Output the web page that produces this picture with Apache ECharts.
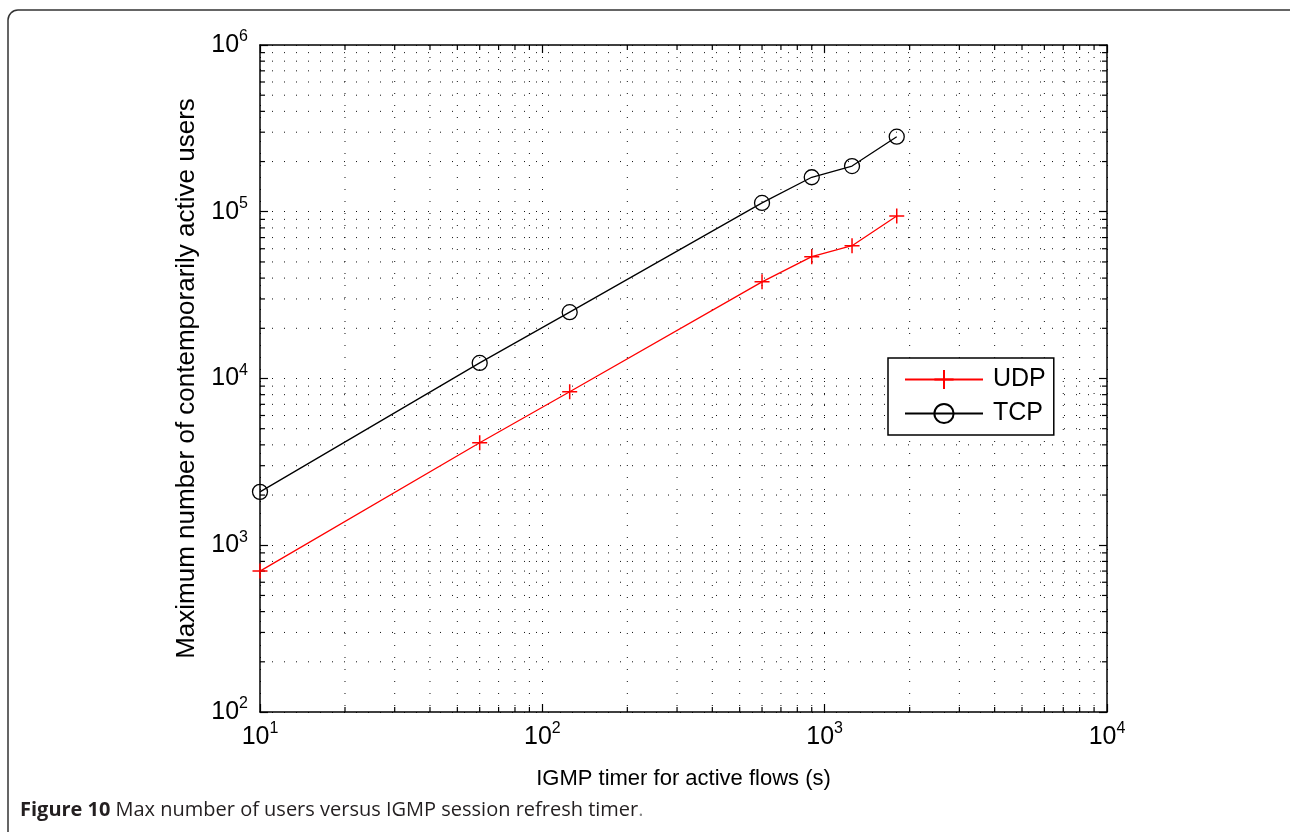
<!DOCTYPE html>
<html>
<head>
<meta charset="utf-8">
<script src="https://cdn.jsdelivr.net/npm/echarts@6/dist/echarts.min.js"></script>
<style>
  html, body { margin: 0; padding: 0; background: #fff; }
  #chart { width: 1290px; height: 832px; }
</style>
</head>
<body>
<div id="chart"></div>
<script>
// values
const timers = [10, 60, 125, 600, 900, 1250, 1800]
const udpUsers = [700, 4120, 8330, 38000, 53800, 62600, 94300]
const tcpUsers = [2090, 12400, 25000, 113000, 161000, 188000, 282000]

const xDecades = [10, 100, 1000]
const yDecades = [100, 1000, 10000, 100000]
const minorSteps = [2, 3, 4, 5, 6, 7, 8, 9]

const FONT = 'Liberation Sans, Arial, sans-serif'

function powLabel(v) {
    let e = Math.round(Math.log10(v))
    return '{b|10}{e|' + e + '}'
}
const labelRich = {
    b: { fontSize: 25, fontFamily: FONT, color: '#000' },
    e: { fontSize: 16, fontFamily: FONT, color: '#000', padding: [0, 0, 16, 0] }
}

let xMinor = []
xDecades.forEach(d => minorSteps.forEach(m => xMinor.push([d * m, 100])))
let yMinor = []
yDecades.forEach(d => minorSteps.forEach(m => yMinor.push([10, d * m])))

const dotted = { color: '#111', width: 1, type: [1, 11] }

function minorX(params, api) {
    let v = api.value(0)
    let top = api.coord([v, 1e6])
    let bot = api.coord([v, 100])
    return {
        type: 'group',
        children: [
            { type: 'line', shape: { x1: top[0], y1: top[1], x2: bot[0], y2: bot[1] }, style: { stroke: '#111', lineWidth: 1, lineDash: [1, 11] } },
            { type: 'line', shape: { x1: bot[0], y1: bot[1], x2: bot[0], y2: bot[1] - 5 }, style: { stroke: '#000', lineWidth: 1.2 } },
            { type: 'line', shape: { x1: top[0], y1: top[1], x2: top[0], y2: top[1] + 5 }, style: { stroke: '#000', lineWidth: 1.2 } }
        ]
    }
}
function minorY(params, api) {
    let v = api.value(1)
    let l = api.coord([10, v])
    let r = api.coord([10000, v])
    return {
        type: 'group',
        children: [
            { type: 'line', shape: { x1: l[0], y1: l[1], x2: r[0], y2: r[1] }, style: { stroke: '#111', lineWidth: 1, lineDash: [1, 11] } },
            { type: 'line', shape: { x1: l[0], y1: l[1], x2: l[0] + 5, y2: l[1] }, style: { stroke: '#000', lineWidth: 1.2 } },
            { type: 'line', shape: { x1: r[0], y1: r[1], x2: r[0] - 5, y2: r[1] }, style: { stroke: '#000', lineWidth: 1.2 } }
        ]
    }
}

let chart = echarts.init(document.getElementById('chart'))
let axisLine = { show: true, lineStyle: { color: '#000', width: 1.5 } }
let tick = { show: true, inside: true, length: 8, lineStyle: { color: '#000', width: 1.2 } }

let option = {
    animation: false,
    backgroundColor: '#fff',
    textStyle: { fontFamily: FONT },
    grid: { left: 260, top: 45, right: 183, bottom: 120 },
    title: {
        left: 15,
        top: 795,
        text: '{b|Figure 10} {n|Max number of users versus IGMP session refresh timer}{p|.}',
        textStyle: {
            rich: {
                b: { fontFamily: 'Open Sans', fontWeight: 'bold', fontSize: 20, color: '#231f20' },
                n: { fontFamily: 'Open Sans', fontWeight: 'normal', fontSize: 20, color: '#231f20' },
                p: { fontFamily: 'Open Sans', fontWeight: 'normal', fontSize: 20, color: '#888' }
            }
        }
    },
    graphic: [{
        type: 'rect',
        shape: { x: 8, y: 10, width: 1300, height: 840, r: 10 },
        style: { fill: 'none', stroke: '#333', lineWidth: 1.5 },
        silent: true
    }],
    legend: {
        data: ['UDP', 'TCP'],
        orient: 'vertical',
        left: 888,
        top: 358,
        padding: [9, 8, 9, 16],
        itemGap: 9,
        itemWidth: 78,
        itemHeight: 24,
        borderColor: '#000',
        borderWidth: 1.5,
        backgroundColor: '#fff',
        textStyle: { fontSize: 25, fontFamily: FONT, color: '#000', padding: [0, 0, 0, 5] }
    },
    xAxis: [{
        type: 'log', logBase: 10, min: 10, max: 10000,
        name: 'IGMP timer for active flows (s)',
        nameLocation: 'middle', nameGap: 56,
        nameTextStyle: { fontSize: 22, fontFamily: FONT, color: '#000' },
        axisLine: axisLine, axisTick: tick,
        axisLabel: { margin: 9, formatter: powLabel, rich: labelRich },
        splitLine: { show: true, lineStyle: dotted }
    }, {
        type: 'log', logBase: 10, min: 10, max: 10000, position: 'top',
        axisLine: axisLine, axisTick: tick, axisLabel: { show: false }, splitLine: { show: false }
    }],
    yAxis: [{
        type: 'log', logBase: 10, min: 100, max: 1000000,
        name: 'Maximum number of contemporarily active users',
        nameLocation: 'middle', nameGap: 60,
        nameTextStyle: { fontSize: 26, fontFamily: FONT, color: '#000' },
        axisLine: axisLine, axisTick: tick,
        axisLabel: { margin: 12, formatter: powLabel, rich: labelRich },
        splitLine: { show: true, lineStyle: dotted }
    }, {
        type: 'log', logBase: 10, min: 100, max: 1000000, position: 'right',
        axisLine: axisLine, axisTick: tick, axisLabel: { show: false }, splitLine: { show: false }
    }],
    series: [
        {
            type: 'custom', name: 'xminor', silent: true, z: 1,
            renderItem: minorX, data: xMinor, encode: { x: 0, y: 1 }
        },
        {
            type: 'custom', name: 'yminor', silent: true, z: 1,
            renderItem: minorY, data: yMinor, encode: { x: 0, y: 1 }
        },
        {
            name: 'UDP', type: 'line', z: 5,
            data: timers.map((t, i) => [t, udpUsers[i]]),
            symbol: 'path://M0,-1L0,1M-1,0L1,0',
            symbolSize: 15,
            lineStyle: { color: '#ff0000', width: 1.3 },
            itemStyle: { color: '#ff0000', borderColor: '#ff0000', borderWidth: 1.5 }
        },
        {
            name: 'TCP', type: 'line', z: 5,
            data: timers.map((t, i) => [t, tcpUsers[i]]),
            symbol: 'circle',
            symbolSize: 15,
            lineStyle: { color: '#000', width: 1.3 },
            itemStyle: { color: 'rgba(0,0,0,0)', borderColor: '#000', borderWidth: 1.3 }
        }
    ]
}
chart.setOption(option)
</script>
</body>
</html>
